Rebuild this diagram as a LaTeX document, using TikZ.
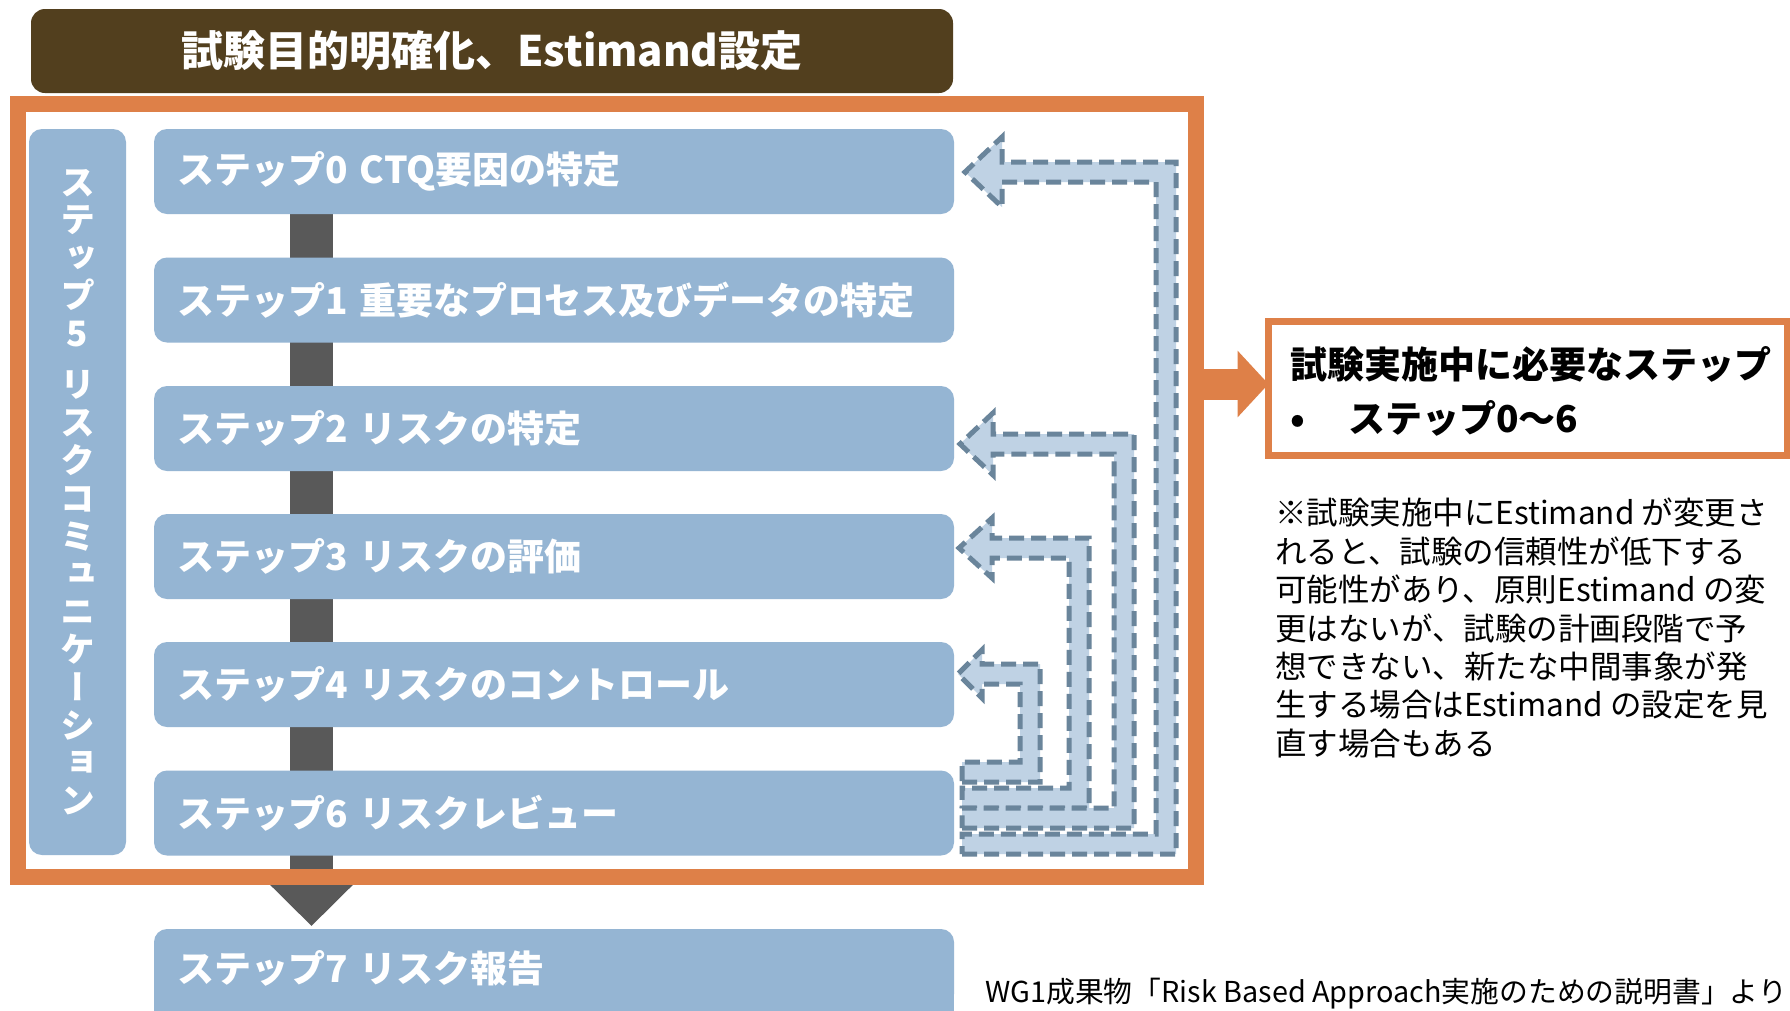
\documentclass[tikz,border=0pt]{standalone}
\usepackage{fontspec}
\setmainfont{Noto Sans CJK JP}
\newfontfamily\vjp[RawFeature=+vert]{Noto Sans CJK JP}
\usetikzlibrary{arrows.meta}
\definecolor{titlebrown}{HTML}{523F1E}
\definecolor{frameorange}{HTML}{DE8048}
\definecolor{stepblue}{HTML}{95B5D3}
\definecolor{bargray}{HTML}{595959}
\definecolor{arrfill}{HTML}{BFD2E4}
\definecolor{arrline}{HTML}{6A859B}
\tikzset{
  stepbox/.style={fill=stepblue, rounded corners=13pt, anchor=north west,
    minimum width=800pt, minimum height=85pt, text width=754pt,
    inner xsep=23pt, inner ysep=0pt, outer sep=0pt, align=left, text=white,
    font=\bfseries\fontsize{37}{40}\selectfont},
  backarr/.style={fill=arrfill, draw=arrline, line width=5pt,
    dash pattern=on 15pt off 7pt, line join=miter},
}
% block U-arrow: #1 start x, #2 vertical x, #3 top y, #4 bottom y, #5 tip x, #6 head length, #7 head half-height
\newcommand\backarrow[7]{%
  \draw[backarr] (#1,{#4+10}) -- ({#2+10},{#4+10}) -- ({#2+10},{#3-10})
    -- ({#5+#6},{#3-10}) -- ({#5+#6},{#3-#7}) -- (#5,#3)
    -- ({#5+#6},{#3+#7}) -- ({#5+#6},{#3+10}) -- ({#2-10},{#3+10})
    -- ({#2-10},{#4-10}) -- (#1,{#4-10}) -- cycle;}
\begin{document}
\begin{tikzpicture}[x=1pt,y=-1pt]
\useasboundingbox (0,0) rectangle (1790,1010);
\clip (0,0) rectangle (1790,1010);
\fill[white] (0,0) rectangle (1790,1010);

% title
\node[fill=titlebrown, rounded corners=14pt, anchor=north west, outer sep=0pt,
  minimum width=922pt, minimum height=84pt, inner sep=0pt, text=white,
  font=\bfseries\fontsize{42}{46}\selectfont] (title) at (31,9)
  {試験目的明確化、Estimand設定};

% gray flow bar with arrow head
\coordinate (bartop) at (311.5,172);
\coordinate (bartip) at (311.5,926);
\draw[bargray, line width=43pt, -{Triangle[width=82pt,length=42pt]}] (bartop) -- (bartip);

% left box
\node[fill=stepblue, rounded corners=13pt, anchor=north west, outer sep=0pt,
  minimum width=97pt, minimum height=726pt, inner sep=0pt, text=white,
  align=center, font=\vjp\bfseries\fontsize{35}{37.8}\selectfont] (comm) at (29,129)
  {ス\\テ\\ッ\\プ\\5\\[13.8pt]リ\\ス\\ク\\コ\\ミ\\ュ\\ニ\\ケ\\ー\\シ\\ョ\\ン};

% step boxes
\node[stepbox] (s0) at (154,129)   {ステップ0 CTQ要因の特定};
\node[stepbox] (s1) at (154,257.5) {ステップ1 重要なプロセス及びデータの特定};
\node[stepbox] (s2) at (154,386)   {ステップ2 リスクの特定};
\node[stepbox] (s3) at (154,514)   {ステップ3 リスクの評価};
\node[stepbox] (s4) at (154,642)   {ステップ4 リスクのコントロール};
\node[stepbox] (s6) at (154,770.5) {ステップ6 リスクレビュー};
\fill[stepblue] (154,985) rectangle (954,1020);
\node[stepbox, minimum height=78pt] (s7) at (154,929) {ステップ7 リスク報告};

% orange frame
\node[draw=frameorange, line width=16pt, anchor=north west, inner sep=0pt, outer sep=0pt,
  minimum width=1177.5pt, minimum height=773pt] (frame) at (18,103.5) {};

% feedback arrows
\backarrow{962}{1030}{674}{772}{958}{24}{24}
\backarrow{962}{1079}{548}{798}{959}{33}{30}
\backarrow{962}{1124}{444}{818}{960}{33}{31}
\backarrow{962}{1166}{172}{844}{965}{37}{35}

% goal box
\node[draw=frameorange, line width=7pt, anchor=north west, inner sep=0pt, outer sep=0pt,
  minimum width=518.5pt, minimum height=133.5pt] (goal) at (1268.5,321.5) {};
\coordinate (arstart) at (1195.5,384);
\draw[frameorange, line width=31pt, -{Triangle[width=65pt,length=31pt]}]
  (arstart) -- (arstart -| goal.west);
\node[anchor=north west, inner sep=0pt, align=left,
  font=\bfseries\fontsize{37}{54}\selectfont] (goaltext) at (1290,346)
  {試験実施中に必要なステップ\\\makebox[58pt][l]{•}ステップ0〜6};

% note
\node[anchor=north west, inner sep=0pt, align=left,
  font=\fontsize{31.5}{38.4}\selectfont] (note) at (1275,498)
  {※試験実施中にEstimand が変更さ\\れると、試験の信頼性が低下する\\可能性があり、原則Estimand の変\\更はないが、試験の計画段階で予\\想できない、新たな中間事象が発\\生する場合はEstimand の設定を見\\直す場合もある};

% source
\node[anchor=east, inner sep=0pt, font=\fontsize{28.8}{32}\selectfont] (src) at (1787,994)
  {WG1成果物「Risk Based Approach実施のための説明書」より};
\end{tikzpicture}
\end{document}
